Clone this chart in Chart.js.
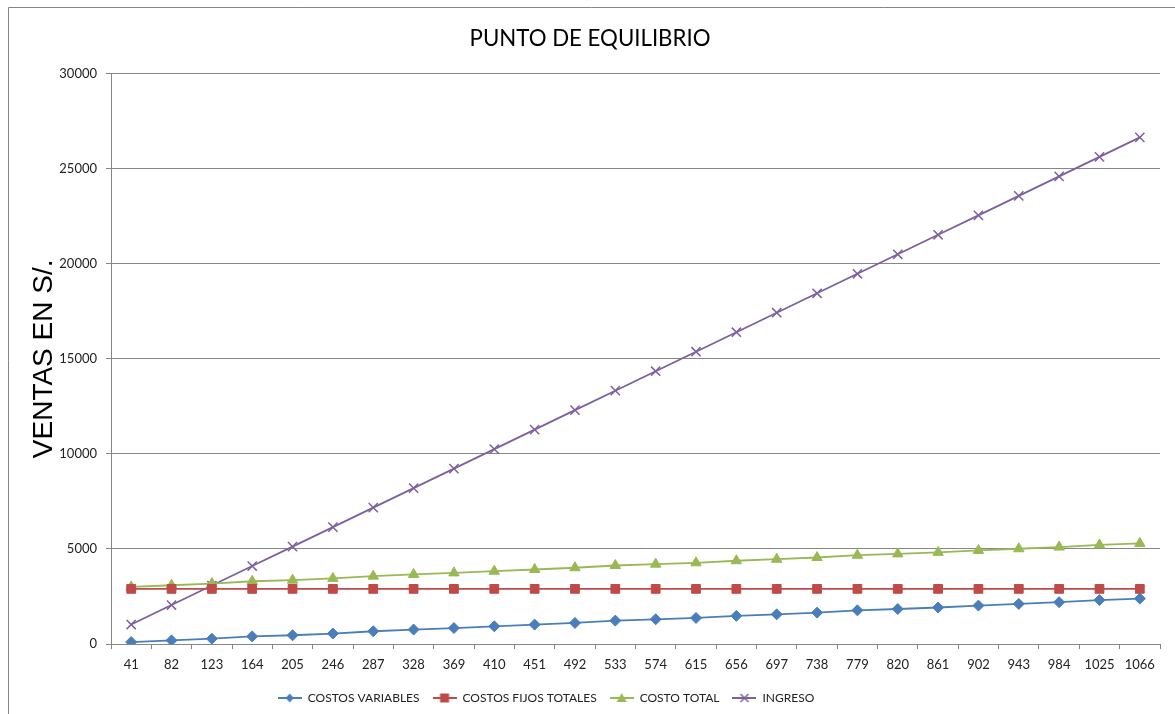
<!DOCTYPE html>
<html>
<head>
<meta charset="utf-8">
<script src="https://cdn.jsdelivr.net/npm/chart.js@4/dist/chart.umd.min.js"></script>
<style>
html,body{margin:0;padding:0;background:#fff;overflow:hidden;}
#wrap{position:absolute;left:0;top:0;width:1175px;height:714px;}
</style>
</head>
<body>
<div id="wrap"><canvas id="c" width="1175" height="714"></canvas></div>
<script>
const chartTitle = 'PUNTO DE EQUILIBRIO';
const yAxisTitle = 'VENTAS EN S/.';
const categories = ['41','82','123','164','205','246','287','328','369','410','451','492','533','574','615','656','697','738','779','820','861','902','943','984','1025','1066'];
const costosVariables = [100,190,280,400,460,550,670,760,840,930,1020,1110,1230,1300,1370,1480,1560,1650,1770,1840,1920,2020,2110,2200,2310,2390];
const costosFijos = [2900,2900,2900,2900,2900,2900,2900,2900,2900,2900,2900,2900,2900,2900,2900,2900,2900,2900,2900,2900,2900,2900,2900,2900,2900,2900];
const costoTotal = [3000,3090,3180,3300,3360,3450,3570,3660,3740,3830,3920,4010,4130,4200,4270,4380,4460,4550,4670,4740,4820,4920,5010,5100,5210,5290];
const ingreso = [1025,2050,3075,4100,5125,6150,7175,8200,9225,10250,11275,12300,13325,14350,15375,16400,17425,18450,19475,20500,21525,22550,23575,24600,25625,26650];
const seriesNames = ['COSTOS VARIABLES','COSTOS FIJOS TOTALES','COSTO TOTAL','INGRESO'];
const yTicks = [0,5000,10000,15000,20000,25000,30000];

const colors = ['#4A7EBB','#BE4B48','#98B954','#7D60A0'];
const styles = ['rectRot','rect','triangle','crossRot'];
const radii = [5.5,6.2,6,6.5];

const mctx = document.createElement('canvas').getContext('2d');
function w(font, t){ mctx.font = font; return mctx.measureText(t).width; }
const fam = 'Lato, "Open Sans", sans-serif';
const titleSize = Math.min(24, 100 * 241 / w('100px ' + fam, chartTitle));

function legendIcon(i){
  const cv = document.createElement('canvas');
  cv.width = 24; cv.height = 12;
  const g = cv.getContext('2d');
  g.strokeStyle = colors[i]; g.lineWidth = 2;
  g.beginPath(); g.moveTo(0,6); g.lineTo(24,6); g.stroke();
  g.fillStyle = colors[i];
  const cx = 12, cy = 6;
  if (styles[i]==='rectRot'){ g.beginPath(); g.moveTo(cx,cy-4.5); g.lineTo(cx+4,cy); g.lineTo(cx,cy+4.5); g.lineTo(cx-4,cy); g.closePath(); g.fill(); }
  else if (styles[i]==='rect'){ g.fillRect(cx-4.5,cy-4.5,9,9); }
  else if (styles[i]==='triangle'){ g.beginPath(); g.moveTo(cx,cy-5); g.lineTo(cx+5,cy+4); g.lineTo(cx-5,cy+4); g.closePath(); g.fill(); }
  else { g.lineWidth=1.5; g.beginPath(); g.moveTo(cx-4,cy-4); g.lineTo(cx+4,cy+4); g.moveTo(cx+4,cy-4); g.lineTo(cx-4,cy+4); g.stroke(); }
  return cv;
}

const allData = [costosVariables, costosFijos, costoTotal, ingreso];
const datasets = allData.map((d,i)=>({
  label: seriesNames[i],
  data: d,
  borderColor: colors[i],
  backgroundColor: colors[i],
  borderWidth: 1.8,
  pointStyle: styles[i],
  pointRadius: radii[i],
  pointHoverRadius: radii[i],
  pointBorderWidth: i===3 ? 1.5 : 1,
  pointBorderColor: colors[i],
  pointBackgroundColor: colors[i],
  tension: 0,
  fill: false
}));

const frame = {
  id: 'frame',
  beforeDraw(chart){
    const g = chart.ctx;
    g.save();
    g.fillStyle = '#fff'; g.fillRect(0,0,chart.width,chart.height);
    g.strokeStyle = '#868686'; g.lineWidth = 1;
    g.beginPath(); g.moveTo(8.5,714); g.lineTo(8.5,7.5); g.lineTo(1175,7.5); g.stroke();
    g.restore();
  },
  afterLayout(chart){
    const lg = chart.legend;
    if (lg) { lg.left -= 44; lg.right -= 44; }
  }
};

new Chart(document.getElementById('c'), {
  type: 'line',
  data: { labels: categories, datasets },
  plugins: [frame],
  options: {
    responsive: false,
    animation: false,
    events: [],
    layout: { padding: { left: 20, right: 15, top: 0, bottom: 0 } },
    plugins: {
      title: {
        display: true, text: chartTitle, color: '#000',
        font: { family: fam, size: titleSize, weight: 'normal' },
        padding: { top: 25, bottom: 22 }
      },
      legend: {
        position: 'bottom',
        labels: {
          usePointStyle: true,
          pointStyleWidth: 24,
          boxHeight: 12,
          padding: 13,
          color: '#222',
          font: { family: fam, size: 12 },
          generateLabels(chart){
            return chart.data.datasets.map((ds,i)=>({
              text: ds.label, pointStyle: legendIcon(i), fillStyle: colors[i], strokeStyle: colors[i], lineWidth: 0, hidden: false, datasetIndex: i, fontColor: '#222'
            }));
          }
        }
      },
      tooltip: { enabled: false }
    },
    scales: {
      x: {
        offset: true,
        afterFit(scale){ scale.height = 35; },
        grid: { display: true, drawOnChartArea: false, drawTicks: true, tickLength: 5, color: '#868686', offset: true },
        border: { color: '#868686' },
        ticks: { color: '#222', font: { family: 'Lato, sans-serif', size: 13 }, padding: 8, maxRotation: 0, autoSkip: false }
      },
      y: {
        min: 0, max: 30000,
        afterBuildTicks(scale){ scale.ticks = yTicks.map(v=>({value:v})); },
        afterFit(scale){ scale.width = 91; },
        grid: { color: '#868686', tickLength: 5, lineWidth: 1 },
        border: { color: '#868686' },
        ticks: { color: '#222', font: { family: 'Lato, sans-serif', size: 13 }, padding: 9, callback: v => String(v) },
        title: { display: true, text: yAxisTitle, color: '#000', font: { family: '"Liberation Sans", Arial, sans-serif', size: 28 }, padding: { top: 7, bottom: 0 } }
      }
    }
  }
});
</script>
</body>
</html>
